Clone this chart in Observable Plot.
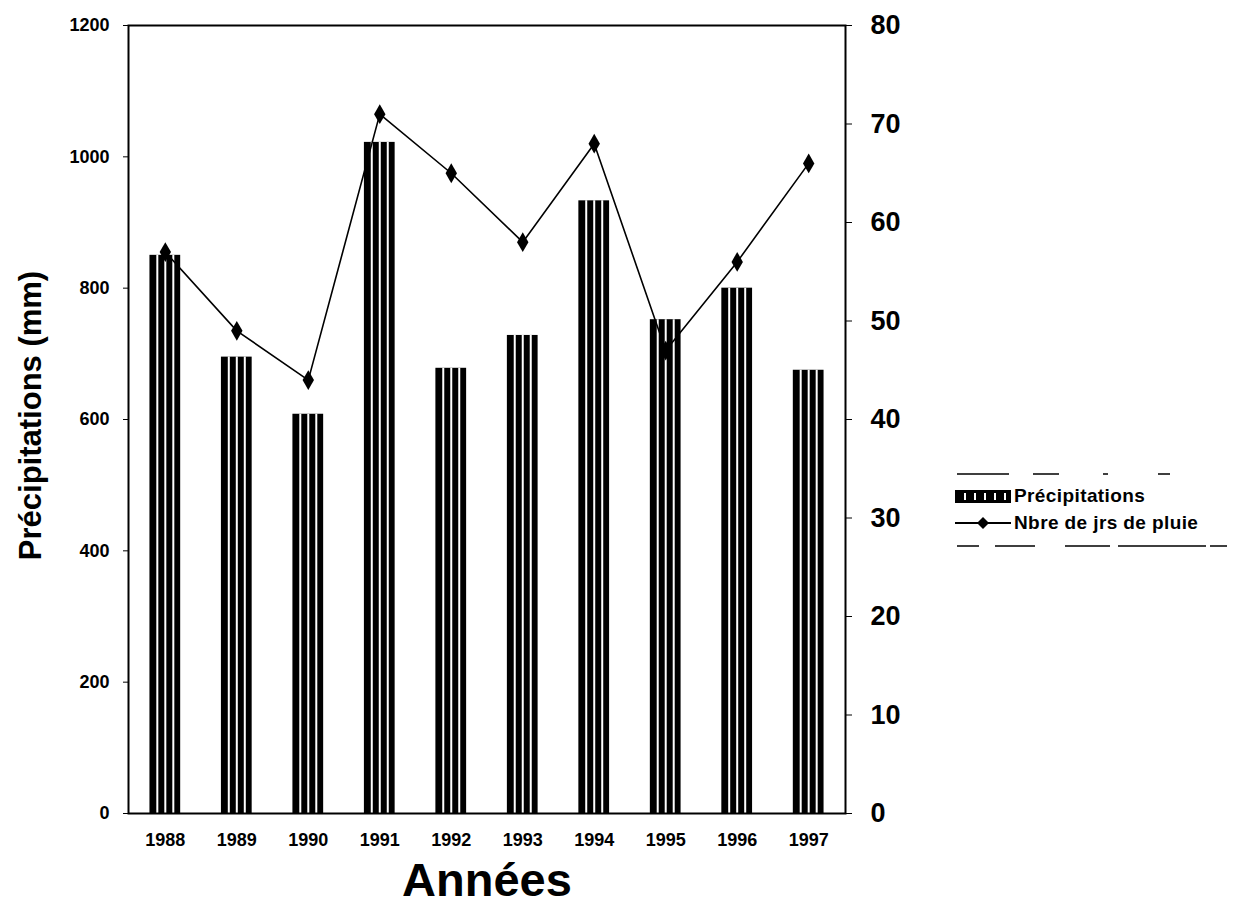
<!DOCTYPE html>
<html>
<head>
<meta charset="utf-8">
<script src="https://cdn.jsdelivr.net/npm/d3@7"></script>
<script src="https://cdn.jsdelivr.net/npm/@observablehq/plot@0.6"></script>
<style>
  body { margin: 0; background: #fff; font-family: "Liberation Sans", Arial, sans-serif; }
  #wrap { position: relative; width: 1233px; height: 909px; }
  #legend { position: absolute; left: 955px; top: 471px; width: 278px; font-family: "Liberation Sans", Arial, sans-serif; }
  .row { display: flex; align-items: center; height: 27px; font-size: 19px; font-weight: bold; letter-spacing: 0.4px; color: #000; white-space: nowrap; }
  .row svg { margin-right: 3px; }
</style>
</head>
<body>
<div id="wrap"></div>
<script>
const years = ["1988","1989","1990","1991","1992","1993","1994","1995","1996","1997"];
const precipitations = [850, 695, 608, 1022, 678, 728, 933, 752, 800, 675];
const joursPluie = [57, 49, 44, 71, 65, 58, 68, 47, 56, 66];
const leftTicks = [0, 200, 400, 600, 800, 1000, 1200];
const rightTicks = [0, 10, 20, 30, 40, 50, 60, 70, 80];
const ratio = 1200 / 80;

const data = years.map((y, i) => ({year: y, precip: precipitations[i], days: joursPluie[i]}));
const font = "Liberation Sans, Arial, sans-serif";

const chart = Plot.plot({
  width: 1233,
  height: 909,
  marginLeft: 128,
  marginRight: 388,
  marginTop: 25,
  marginBottom: 96,
  style: {fontFamily: font, background: "white", color: "black"},
  x: {domain: years, paddingInner: 0.57, paddingOuter: 0.3, round: false, label: null},
  y: {domain: [0, 1200], label: null},
  marks: [
    Plot.barY(data, {x: "year", y: "precip", fill: "black"}),
    Plot.ruleX(data, {x: "year", y1: 0, y2: "precip", dx: -8, stroke: "white", strokeWidth: 2, insetTop: 3}),
    Plot.ruleX(data, {x: "year", y1: 0, y2: "precip", dx: 0, stroke: "white", strokeWidth: 2, insetTop: 3}),
    Plot.ruleX(data, {x: "year", y1: 0, y2: "precip", dx: 8, stroke: "white", strokeWidth: 2, insetTop: 3}),
    Plot.line(data, {x: "year", y: d => d.days * ratio, stroke: "black", strokeWidth: 1.6}),
    Plot.dot(data, {x: "year", y: d => d.days * ratio, symbol: "diamond", fill: "black", r: 6}),
    Plot.frame({stroke: "black", strokeWidth: 2}),
    Plot.axisY({anchor: "left", ticks: leftTicks, tickFormat: d => String(d), tickSize: 5, tickPadding: 14, fontSize: 18, fontWeight: "bold", label: null}),
    Plot.axisY({anchor: "right", ticks: rightTicks.map(t => t * ratio), tickFormat: d => String(Math.round(d / ratio)), tickSize: 6, tickPadding: 19, fontSize: 27, fontWeight: "bold", label: null}),
    Plot.axisX({anchor: "bottom", tickSize: 0, tickPadding: 20, fontSize: 18, fontWeight: "bold", label: null}),
    Plot.text(["Précipitations (mm)"], {frameAnchor: "left", textAnchor: "middle", dx: -97, dy: -4, rotate: -90, fontSize: 31, fontWeight: "bold"}),
    Plot.text(["Années"], {frameAnchor: "bottom", dy: 82, fontSize: 47, fontWeight: "bold", letterSpacing: 1})
  ]
});
document.getElementById("wrap").appendChild(chart);

const legend = document.createElement("div");
legend.id = "legend";
legend.innerHTML = `
  <svg width="278" height="6" style="display:block"><line x1="2" x2="270" y1="3" y2="3" stroke="black" stroke-width="1.5" stroke-dasharray="52 24 26 44 5 50 12 60"/></svg>
  <div class="row" style="margin-top:5px">
    <svg width="56" height="16"><rect x="0" y="2" width="56" height="13" fill="black"/>
      <line x1="10" x2="10" y1="5" y2="12" stroke="white" stroke-width="2"/>
      <line x1="20" x2="20" y1="5" y2="12" stroke="white" stroke-width="2"/>
      <line x1="30" x2="30" y1="5" y2="12" stroke="white" stroke-width="2"/>
      <line x1="40" x2="40" y1="5" y2="12" stroke="white" stroke-width="2"/>
      <line x1="50" x2="50" y1="5" y2="12" stroke="white" stroke-width="2"/></svg>
    <span>Précipitations</span></div>
  <div class="row">
    <svg width="56" height="16"><line x1="0" x2="56" y1="8" y2="8" stroke="black" stroke-width="2"/>
      <path d="M28,2 L34,8 L28,14 L22,8 Z" fill="black"/></svg>
    <span>Nbre de jrs de pluie</span></div>
  <svg width="278" height="10" style="display:block;margin-top:5px"><line x1="2" x2="272" y1="5" y2="5" stroke="black" stroke-width="1.5" stroke-dasharray="22 16 40 30 45 8 88 4"/></svg>`;
document.getElementById("wrap").appendChild(legend);
</script>
</body>
</html>
